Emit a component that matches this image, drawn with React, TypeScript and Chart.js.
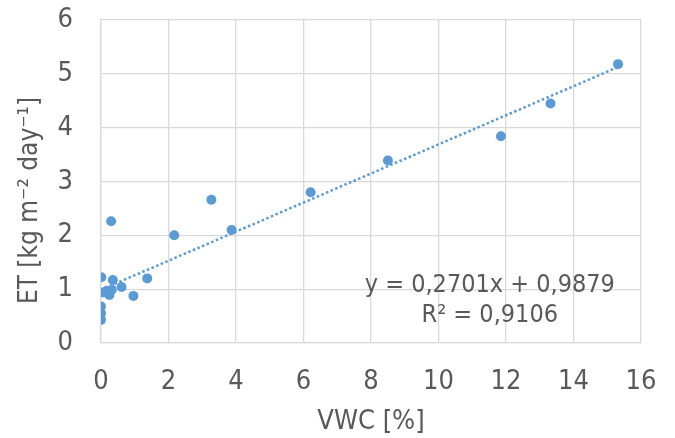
import React, { useEffect, useRef } from "react";
import { Chart, registerables } from "chart.js";
Chart.register(...registerables);

const vwc = [15.32, 13.32, 11.85, 8.5, 6.21, 3.27, 3.87, 2.17, 0.3, 1.37, 0.96, 0.61, 0.35, 0.01, 0.05, 0.17, 0.25, 0.32, 0.0, 0.0, 0.0];
const et = [5.18, 4.45, 3.84, 3.39, 2.8, 2.66, 2.1, 2.0, 2.26, 1.2, 0.875, 1.04, 1.17, 1.22, 0.94, 0.97, 0.89, 0.99, 0.68, 0.55, 0.43];
const trendX = [0, 15.32];
const trendY = [0.988, 5.126];
const xTicks = [0, 2, 4, 6, 8, 10, 12, 14, 16];
const yTicks = [0, 1, 2, 3, 4, 5, 6];
const equationLines = ["y = 0,2701x + 0,9879", "R² = 0,9106"];
const xTitle = "VWC [%]";
const yTitle = "ET [kg m⁻² day⁻¹]";

const FONT = "'DejaVu Sans Condensed', 'DejaVu Sans', Verdana, sans-serif";
const TEXT = "#595959";
const GRID = "#D9D9D9";
const BLUE = "#5B9BD5";

export default function App() {
  const ref = useRef<HTMLCanvasElement>(null);
  useEffect(() => {
    document.body.style.margin = "0";
    const textPlugin = {
      id: "extraText",
      afterDatasetsDraw(chart: any) {
        const ctx = chart.ctx;
        const xs = chart.scales.x;
        const ys = chart.scales.y;
        ctx.save();
        ctx.fillStyle = TEXT;
        ctx.font = `25px ${FONT}`;
        ctx.textAlign = "center";
        ctx.textBaseline = "middle";
        const cx = xs.getPixelForValue(11.52);
        ctx.fillText(equationLines[0], cx, ys.getPixelForValue(1.07));
        ctx.fillText(equationLines[1], cx, ys.getPixelForValue(0.52));
        // y axis title
        ctx.font = `26px ${FONT}`;
        ctx.translate(30, (chart.chartArea.top + chart.chartArea.bottom) / 2 + 19);
        ctx.rotate(-Math.PI / 2);
        ctx.fillText(yTitle, 0, 0);
        ctx.restore();
      },
    };
    const chart = new Chart(ref.current!, {
      type: "scatter",
      data: {
        datasets: [
          {
            type: "line",
            data: trendX.map((x, i) => ({ x, y: trendY[i] })),
            borderColor: BLUE,
            borderWidth: 2.5,
            borderDash: [2.5, 2.5],
            pointRadius: 0,
            fill: false,
          } as any,
          {
            data: vwc.map((x, i) => ({ x, y: et[i] })),
            backgroundColor: BLUE,
            borderWidth: 0,
            pointRadius: 5,
          },
        ],
      },
      plugins: [textPlugin],
      options: {
        responsive: false,
        animation: false,
        layout: { padding: { top: 20, right: 34, left: 0, bottom: 0 } },
        plugins: { legend: { display: false }, tooltip: { enabled: false } },
        scales: {
          x: {
            type: "linear",
            min: 0,
            max: 16,
            afterBuildTicks: (s: any) => {
              s.ticks = xTicks.map((v) => ({ value: v }));
            },
            afterFit: (s: any) => {
              s.height = 95;
              s.paddingLeft = 0;
              s.paddingRight = 0;
            },
            ticks: { color: TEXT, font: { family: FONT, size: 27 }, padding: 23 },
            grid: { color: GRID, drawTicks: false, lineWidth: 1.3 },
            border: { color: GRID, width: 1.3 },
            title: {
              display: true,
              text: xTitle,
              color: TEXT,
              font: { family: FONT, size: 27 },
              padding: { top: 0, bottom: 0 },
            },
          },
          y: {
            type: "linear",
            min: 0,
            max: 6,
            afterBuildTicks: (s: any) => {
              s.ticks = yTicks.map((v) => ({ value: v }));
            },
            afterFit: (s: any) => {
              s.width = 101;
              s.paddingTop = 0;
              s.paddingBottom = 0;
            },
            ticks: { color: TEXT, font: { family: FONT, size: 27 }, padding: 28 },
            grid: { color: GRID, drawTicks: false, lineWidth: 1.3 },
            border: { color: GRID, width: 1.3 },
          },
        },
      },
    });
    return () => chart.destroy();
  }, []);
  return (
    <div style={{ width: 675, height: 438 }}>
      <canvas ref={ref} width={675} height={438} />
    </div>
  );
}
